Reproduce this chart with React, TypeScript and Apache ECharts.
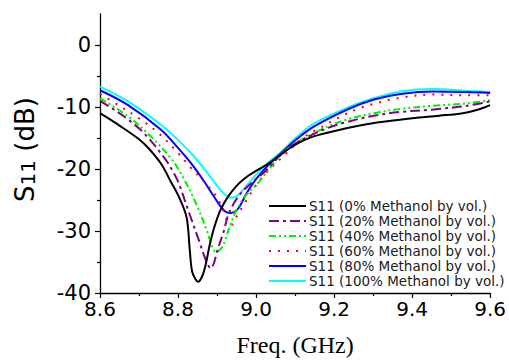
import React, { useEffect, useRef } from "react";
import * as echarts from "echarts";

// S11 curves, [frequency GHz, S11 dB]
const s11_0: number[][] = [[8.60,-11.0],[8.65,-13.0],[8.70,-15.2],[8.725,-16.7],[8.757,-19.2],[8.782,-22.1],[8.803,-24.6],[8.822,-27.8],[8.830,-33.0],[8.836,-36.5],[8.845,-37.8],[8.851,-38.2],[8.862,-37.3],[8.871,-35.4],[8.880,-32.6],[8.892,-29.6],[8.909,-26.6],[8.930,-24.3],[8.955,-22.4],[8.98,-21.1],[9.00,-20.3],[9.03,-19.2],[9.065,-17.6],[9.10,-16.1],[9.15,-14.7],[9.234,-13.4],[9.31,-12.5],[9.40,-11.8],[9.47,-11.4],[9.53,-11.0],[9.57,-10.4],[9.60,-9.7]];
const s11_20: number[][] = [[8.60,-9.0],[8.638,-10.5],[8.672,-12.0],[8.714,-14.3],[8.765,-18.2],[8.786,-20.3],[8.80,-22.0],[8.828,-27.0],[8.854,-31.6],[8.872,-34.8],[8.884,-36.0],[8.892,-35.2],[8.900,-33.3],[8.917,-30.1],[8.930,-27.2],[8.955,-24.4],[8.989,-22.2],[9.023,-20.4],[9.065,-17.6],[9.10,-15.9],[9.175,-13.6],[9.234,-12.4],[9.302,-11.4],[9.37,-10.8],[9.455,-10.4],[9.54,-9.8],[9.60,-9.1]];
const s11_40: number[][] = [[8.60,-8.6],[8.672,-11.5],[8.731,-14.8],[8.782,-18.3],[8.81,-21.0],[8.845,-25.4],[8.875,-30.1],[8.888,-32.6],[8.898,-33.4],[8.908,-33.0],[8.917,-32.1],[8.934,-29.0],[8.951,-26.5],[8.972,-24.4],[9.006,-22.2],[9.065,-17.6],[9.10,-15.9],[9.175,-13.4],[9.234,-12.0],[9.302,-11.0],[9.37,-10.3],[9.455,-9.8],[9.54,-9.4],[9.60,-8.9]];
const s11_60: number[][] = [[8.60,-7.9],[8.65,-9.8],[8.697,-11.7],[8.748,-14.1],[8.80,-17.4],[8.833,-19.8],[8.86,-21.6],[8.879,-22.9],[8.90,-24.6],[8.915,-26.5],[8.928,-28.6],[8.937,-29.0],[8.947,-28.0],[8.972,-25.4],[8.998,-22.8],[9.023,-20.8],[9.074,-17.7],[9.12,-15.0],[9.175,-13.0],[9.209,-11.8],[9.26,-10.3],[9.302,-9.5],[9.37,-8.5],[9.455,-8.0],[9.54,-8.1],[9.60,-8.1]];
const s11_80: number[][] = [[8.60,-7.3],[8.672,-9.7],[8.757,-13.7],[8.80,-16.6],[8.84,-19.6],[8.87,-22.3],[8.90,-25.2],[8.92,-26.8],[8.935,-27.1],[8.950,-26.7],[8.962,-25.6],[8.975,-24.0],[8.998,-21.8],[9.031,-19.4],[9.065,-17.4],[9.10,-15.4],[9.15,-13.1],[9.234,-10.4],[9.302,-8.8],[9.37,-7.9],[9.455,-7.5],[9.54,-7.6],[9.60,-7.75]];
const s11_100: number[][] = [[8.60,-6.7],[8.672,-9.1],[8.757,-12.9],[8.80,-15.3],[8.84,-17.9],[8.87,-20.2],[8.90,-22.7],[8.92,-24.1],[8.935,-24.6],[8.950,-24.4],[8.965,-23.5],[8.985,-22.0],[9.006,-20.5],[9.031,-19.0],[9.065,-17.2],[9.10,-15.1],[9.15,-12.6],[9.234,-10.1],[9.285,-8.9],[9.37,-7.5],[9.455,-7.1],[9.54,-7.4],[9.60,-7.6]];

const seriesNames = [
  "S11 (0% Methanol by vol.)",
  "S11 (20% Methanol by vol.)",
  "S11 (40% Methanol by vol.)",
  "S11 (60% Methanol by vol.)",
  "S11 (80% Methanol by vol.)",
  "S11 (100% Methanol by vol.)",
];
const seriesData = [s11_0, s11_20, s11_40, s11_60, s11_80, s11_100];

const yMajorTicks = [-40, -30, -20, -10, 0];
const yMinorTicks = [-35, -25, -15, -5];

const colors = ["#000000", "#800080", "#00ee00", "#ff0000", "#0000ff", "#00ffff"];
const dashes: any[] = ["solid", [10, 4, 3, 4], [7, 3, 2, 3, 2, 3], [2, 7], "solid", "solid"];

const SANS = "DejaVu Sans";

export default function App() {
  const ref = useRef<HTMLDivElement>(null);
  useEffect(() => {
    if (!ref.current) return;
    const chart = echarts.init(ref.current, null, { renderer: "svg" });
    chart.setOption({
      animation: false,
      backgroundColor: "#ffffff",
      grid: { left: 100, right: 15, top: 14, bottom: 58, containLabel: false },
      legend: {
        orient: "vertical",
        left: 268,
        top: 199,
        padding: 0,
        itemWidth: 37,
        itemHeight: 14,
        itemGap: 1,
        itemStyle: { opacity: 0 },
        textStyle: { fontFamily: SANS, fontSize: 13.5, color: "#1a1a1a", padding: [0, 0, 0, -2] },
        data: seriesNames,
      },
      xAxis: {
        type: "value",
        min: 8.6,
        max: 9.6,
        interval: 0.2,
        name: "Freq. (GHz)",
        nameLocation: "middle",
        nameGap: 40,
        nameTextStyle: { fontFamily: "Liberation Serif", fontSize: 24, color: "#000" },
        axisLine: { show: true, onZero: false, lineStyle: { color: "#000", width: 1.3 } },
        axisTick: { show: true, inside: false, length: 5, lineStyle: { color: "#000", width: 1.2 } },
        minorTick: { show: true, splitNumber: 2, length: 3, lineStyle: { color: "#000", width: 1.2 } },
        axisLabel: {
          fontFamily: SANS,
          fontSize: 20,
          color: "#000",
          margin: 6,
          formatter: (v: number) => v.toFixed(1),
        },
        splitLine: { show: false },
      },
      yAxis: [
        {
          type: "value",
          min: -40,
          max: 5,
          interval: 10,
          name: "{s|S}{sub|11}{s| (dB)}",
          nameLocation: "middle",
          nameRotate: 90,
          nameGap: 62,
          nameTextStyle: {
            color: "#000",
            padding: [0, 0, 0, 8],
            rich: {
              s: { fontFamily: SANS, fontSize: 26, color: "#000", verticalAlign: "bottom" },
              sub: { fontFamily: SANS, fontSize: 20, color: "#000", verticalAlign: "bottom" },
            },
          },
          axisLine: { show: true, onZero: false, lineStyle: { color: "#000", width: 1.3 } },
          axisTick: { show: true, length: 5, customValues: yMajorTicks, lineStyle: { color: "#000", width: 1.2 } },
          axisLabel: {
            fontFamily: SANS,
            fontSize: 21,
            color: "#000",
            margin: 9,
            customValues: yMajorTicks,
            formatter: (v: number) => String(v),
          },
          splitLine: { show: false },
        },
        {
          type: "value",
          min: -40,
          max: 5,
          interval: 5,
          position: "left",
          axisLine: { show: false, onZero: false },
          axisTick: { show: true, length: 3, customValues: yMinorTicks, lineStyle: { color: "#000", width: 1.2 } },
          axisLabel: { show: false },
          splitLine: { show: false },
        },
      ],
      series: seriesData.map((d, i) => ({
        name: seriesNames[i],
        type: "line",
        data: d,
        yAxisIndex: 0,
        showSymbol: false,
        symbol: "none",
        smooth: 0.35,
        lineStyle: { color: colors[i], width: 2, type: dashes[i] },
        itemStyle: { color: colors[i] },
        z: 10 - i,
      })),
    });
    return () => chart.dispose();
  }, []);
  return (
    <div
      ref={ref}
      style={{ position: "absolute", left: 0, top: 0, width: 509, height: 362 }}
    />
  );
}
